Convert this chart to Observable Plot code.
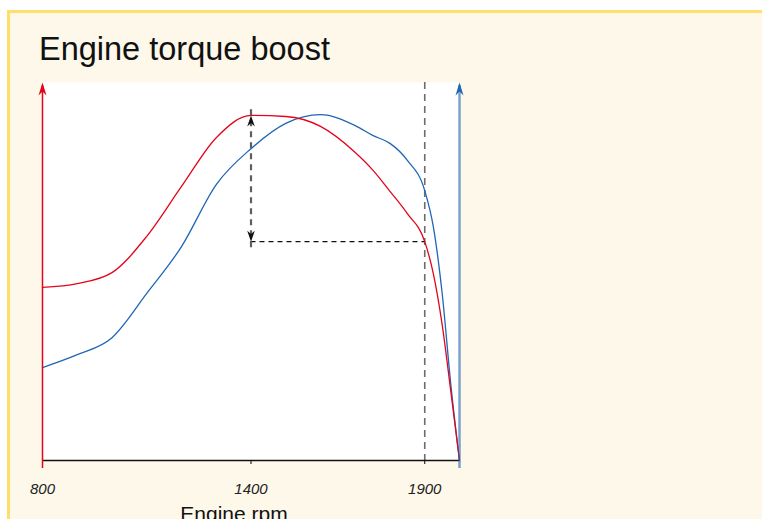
<!DOCTYPE html>
<html>
<head>
<meta charset="utf-8">
<script src="https://cdn.jsdelivr.net/npm/d3@7"></script>
<script src="https://cdn.jsdelivr.net/npm/@observablehq/plot@0.6"></script>
<style>
  html, body { margin: 0; padding: 0; background: #ffffff; overflow: hidden; width: 762px; height: 519px; }
  #card {
    position: absolute; left: 7px; top: 10px; width: 820px; height: 560px;
    background: #fef8ea; border-top: 3px solid #ffdf6a; border-left: 3px solid #ffdf6a;
    font-family: "Liberation Sans", Arial, Helvetica, sans-serif;
  }
  #title {
    position: absolute; left: 29px; top: 21px; margin: 0;
    font-size: 32.5px; line-height: 30px; font-weight: normal; color: #111;
    white-space: nowrap;
  }
  #chart { position: absolute; left: 0px; top: 57px; }
  #chart svg { overflow: visible; }
</style>
</head>
<body>
<div id="card">
  <div id="title">Engine torque boost</div>
  <div id="chart"></div>
</div>
<script>
// ---- data ----
const rpm      = [800, 900, 1000, 1100, 1200, 1300, 1400, 1500, 1600, 1700, 1750, 1800, 1850, 1900, 1925, 1950, 1975, 2000];
const boosted  = [45.8, 46.8, 49.7, 59.3, 72.5, 85.4, 91.3, 91.0, 88.4, 81.5, 76.9, 71.2, 65.3, 57.9, 49.3, 36.0, 18.3, 0];
const standard = [24.6, 28.0, 32.5, 44.2, 56.6, 73.0, 82.5, 89.2, 91.5, 88.6, 86.0, 83.9, 79.4, 71.4, 61.7, 44.3, 20.1, 0];
const xTicks   = [800, 1400, 1900];
const xTitle   = "Engine rpm";
const peakRpm  = 1400;   // boost arrow position
const limitRpm = 1900;   // dashed reference rpm

// ---- derived tables ----
const redRows  = rpm.map((r, i) => ({rpm: r, torque: boosted[i]}));
const blueRows = rpm.map((r, i) => ({rpm: r, torque: standard[i]}));
const peakVal  = boosted[rpm.indexOf(peakRpm)];
const limitVal = boosted[rpm.indexOf(limitRpm)];
const yTop = 100;

const RED = "#e3051b", BLUE = "#1f66b5";

// arrowhead symbols (tip at origin)
const headUp = (w, L) => ({draw(c) { c.moveTo(0, 0); c.lineTo(w, L); c.lineTo(0, L * 0.7); c.lineTo(-w, L); c.closePath(); }});
const headDown = (w, L) => ({draw(c) { c.moveTo(0, 0); c.lineTo(w, -L); c.lineTo(0, -L * 0.7); c.lineTo(-w, -L); c.closePath(); }});

const chart = Plot.plot({
  width: 500,
  height: 460,
  marginLeft: 32,
  marginRight: 51,
  marginTop: 12,
  marginBottom: 70,
  style: {background: "transparent", fontFamily: "'Liberation Sans', Arial, Helvetica, sans-serif", overflow: "visible"},
  x: {domain: [rpm[0], rpm[rpm.length - 1]]},
  y: {domain: [0, yTop], axis: null},
  marks: [
    Plot.frame({fill: "white", stroke: null}),
    // x axis
    Plot.axisX({ticks: xTicks, tickFormat: d3.format("d"), tickSize: 4, tickPadding: 19,
                fontSize: 15, fontStyle: "italic", fill: "#222", label: null}),
    Plot.text([xTitle], {frameAnchor: "bottom", lineAnchor: "bottom", dy: 60, dx: -17,
                         fontSize: 21, fill: "#111"}),
    // dashed limit line
    Plot.ruleX([limitRpm], {stroke: "#6d6d6d", strokeWidth: 1.6, strokeDasharray: "7,5"}),
    // curves
    Plot.line(blueRows, {x: "rpm", y: "torque", stroke: BLUE, strokeWidth: 1.3, curve: "monotone-x"}),
    Plot.line(redRows, {x: "rpm", y: "torque", stroke: RED, strokeWidth: 1.3, curve: "monotone-x"}),
    // boost annotation
    Plot.ruleY([limitVal], {x1: peakRpm, x2: limitRpm, stroke: "#111", strokeWidth: 1.2, strokeDasharray: "5,4"}),
    Plot.ruleX([peakRpm], {y1: limitVal, y2: peakVal, stroke: "#5f5f5f", strokeWidth: 2.2, strokeDasharray: "6,5", insetTop: 6, insetBottom: 6}),
    Plot.dot([{x: peakRpm, y: peakVal}], {x: "x", y: "y", r: 5, symbol: headUp(3.8, 11), fill: "#111", stroke: null}),
    Plot.dot([{x: peakRpm, y: limitVal}], {x: "x", y: "y", r: 5, symbol: headDown(3.8, 11), fill: "#111", stroke: null}),
    // baseline
    Plot.ruleY([0], {stroke: "#111", strokeWidth: 1.3}),
    // left (red) axis arrow
    Plot.ruleX([rpm[0]], {y1: 0, y2: yTop, stroke: RED, strokeWidth: 1.5, insetBottom: -3, insetTop: 8}),
    Plot.dot([{x: rpm[0], y: yTop}], {x: "x", y: "y", r: 5, symbol: headUp(4, 13), fill: RED, stroke: null}),
    // right (blue) axis arrow
    Plot.ruleX([rpm[rpm.length - 1]], {y1: 0, y2: yTop, stroke: BLUE, strokeOpacity: 0.6, strokeWidth: 2.5, insetBottom: -3, insetTop: 8}),
    Plot.dot([{x: rpm[rpm.length - 1], y: yTop}], {x: "x", y: "y", r: 5, symbol: headUp(4, 13), fill: BLUE, stroke: null})
  ]
});
document.getElementById("chart").appendChild(chart);
</script>
</body>
</html>
